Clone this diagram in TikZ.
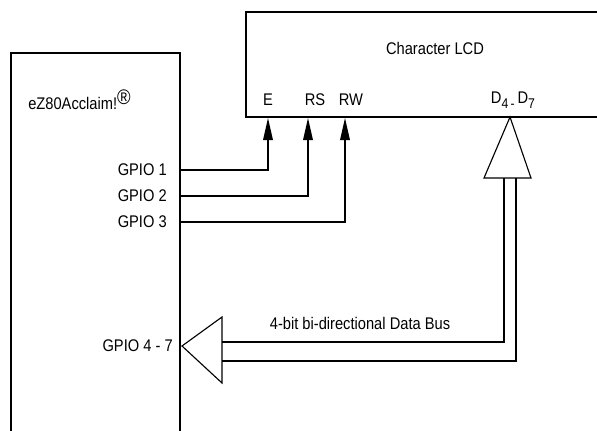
\documentclass[tikz,border=0pt]{standalone}
\usepackage{fontspec}
\setmainfont{Liberation Sans}[FakeStretch=0.87]
\usetikzlibrary{arrows.meta}

\begin{document}
\begin{tikzpicture}[
  x=0.025cm,y=-0.025cm,
  font=\fontsize{12}{14}\selectfont,
  >={Triangle[length=5.5mm,width=2.4mm]},
  box/.style={draw=black,line width=1pt},
  sig/.style={line width=1pt},
  buf/.style={draw=black,line width=0.8pt,line join=miter},
  bus/.style={line width=1pt},
  lbl/.style={inner sep=0pt},
]
\useasboundingbox (0,0) rectangle (597,431);

% ---- eZ80 box (open at the bottom) ----
\draw[box] (11,431) -- (11,53) -- (180,53) -- (180,431);
\node[lbl,anchor=west] (mcu) at (28,100)
  {eZ80Acclaim!\raisebox{0.55ex}{\fontsize{15}{15}\selectfont ®}};
\node[lbl,anchor=east] (gpioA) at (167,170) {GPIO 1};
\node[lbl,anchor=east] (gpioB) at (167,196) {GPIO 2};
\node[lbl,anchor=east] (gpioC) at (167,222) {GPIO 3};
\node[lbl,anchor=east] (gpioD) at (173,346) {GPIO 4 - 7};
\coordinate (portA) at (180,170);
\coordinate (portB) at (180,196);
\coordinate (portC) at (180,222);

% ---- LCD box (open at the right) ----
\draw[box] (597,12) -- (246,12) -- (246,117) -- (597,117);
\node[lbl] (lcd) at (435,48) {Character LCD};
\node[lbl] (pinE) at (268,100) {E};
\node[lbl] (pinRS) at (315,100) {RS};
\node[lbl] (pinRW) at (351,100) {RW};
\node[lbl] (pinD) at (513,100)
  {D\raisebox{-0.5ex}{\fontsize{10}{10}\selectfont 4\,-}\,D\raisebox{-0.5ex}{\fontsize{10}{10}\selectfont 7}};
\coordinate (inE) at (268,118);
\coordinate (inRS) at (308,118);
\coordinate (inRW) at (345,118);

% ---- control lines ----
\draw[sig,->] (portA) -| (inE);
\draw[sig,->] (portB) -| (inRS);
\draw[sig,->] (portC) -| (inRW);

% ---- bus buffers ----
\coordinate (lcdbuf) at (510,117);
\coordinate (mcubuf) at (182,346);
\draw[buf] (lcdbuf) -- (484,178) -- (531,178) -- cycle;
\draw[buf] (mcubuf) -- (222,317) -- (222,383) -- cycle;

% ---- data bus ----
\draw[bus] (222,342) -- (504,342) -- (504,178);
\draw[bus] (222,361) -- (516,361) -- (516,178);
\node[lbl] (buslbl) at (360,323) {4-bit bi-directional Data Bus};
\end{tikzpicture}
\end{document}
